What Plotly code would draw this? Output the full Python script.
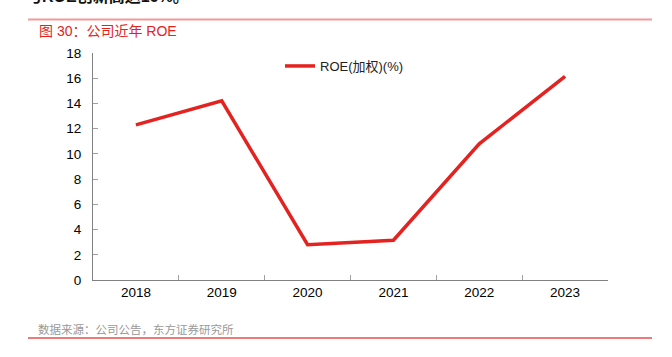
import plotly.graph_objects as go

years = ["2018", "2019", "2020", "2021", "2022", "2023"]
roe = [12.3, 14.2, 2.8, 3.15, 10.8, 16.15]
series_name = "ROE(加权)(%)"
title_text = "图 30：公司近年 ROE"
source_text = "数据来源：公司公告，东方证券研究所"
top_text = "与ROE创新高达16%。"

OFF = 0  # page body margin removed via post_script
W, H = 672, 357
L, R, T, B = 93 - OFF, 608 - OFF, 53 - OFF, 280 - OFF

def px(x):
    return (x - OFF - L) / (R - L)

def py(y):
    return (B - (y - OFF)) / (B - T)

font_fam = "Liberation Sans, Arial, Noto Sans CJK SC, sans-serif"

fig = go.Figure()
fig.add_trace(go.Scatter(
    x=years, y=roe, mode="lines", name=series_name,
    line=dict(color="#E42320", width=3.5),
))

fig.update_layout(
    width=W, height=H,
    margin=dict(l=L, r=W - R, t=T, b=H - B, pad=0),
    paper_bgcolor="white", plot_bgcolor="white",
    font=dict(family=font_fam, size=13.5, color="#000000"),
    showlegend=True,
    legend=dict(x=px(280), y=py(66), xanchor="left", yanchor="middle",
                orientation="h", font=dict(size=13, color="#222222"),
                bgcolor="rgba(0,0,0,0)", itemwidth=30),
    xaxis=dict(type="category", range=[-0.5, 5.5], showgrid=False,
               showline=True, linecolor="#808080", linewidth=1,
               ticks="inside", ticklen=5, tickcolor="#A0A0A0",
               tickson="boundaries", zeroline=False,
               tickfont=dict(size=13.5, color="#000000")),
    yaxis=dict(range=[0, 18], dtick=2, showgrid=False,
               showline=True, linecolor="#808080", linewidth=1,
               ticks="inside", ticklen=5, tickcolor="#A0A0A0",
               zeroline=False, ticklabelstandoff=8,
               tickfont=dict(size=13.5, color="#000000")),
)

anns = [
    dict(text=title_text, x=px(37), y=py(31), xanchor="left", yanchor="middle",
         font=dict(size=14, color="#E42320", family=font_fam)),
    dict(text=source_text, x=px(36), y=py(329), xanchor="left", yanchor="middle",
         font=dict(size=11.5, color="#999999", family=font_fam)),
    dict(text="<b>" + top_text + "</b>", x=px(24), y=py(-3.5), xanchor="left", yanchor="middle",
         font=dict(size=16, color="#111111", family=font_fam)),
]
for a in anns:
    a.update(xref="paper", yref="paper", showarrow=False)
fig.update_layout(annotations=anns)

fig.add_shape(type="line", xref="paper", yref="paper",
              x0=px(28), x1=px(652), y0=py(19.5), y1=py(19.5),
              line=dict(color="#F29A9A", width=2))
fig.add_shape(type="line", xref="paper", yref="paper",
              x0=px(28), x1=px(652), y0=py(338), y1=py(338),
              line=dict(color="#F07A7A", width=2))

fig.write_html("out.html",
               config={"displayModeBar": False},
               post_script="document.body.style.margin='0';document.body.style.overflow='hidden';")
